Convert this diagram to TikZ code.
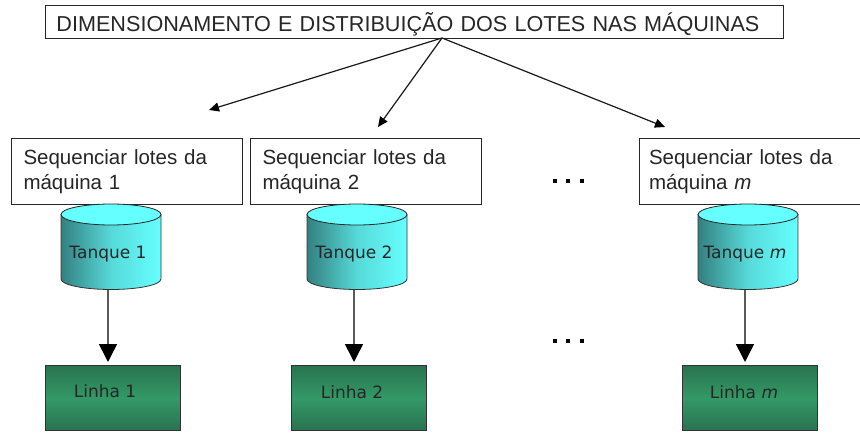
\documentclass[tikz,border=0pt]{standalone}
\usepackage{fontspec}
\setmainfont{Liberation Sans}
\newfontfamily\tahoma{DejaVu Sans}
\usetikzlibrary{arrows.meta}
\definecolor{cyanL}{RGB}{102,255,255}
\definecolor{cyanD}{RGB}{52,128,128}
\definecolor{greenM}{RGB}{51,153,102}
\definecolor{greenD}{RGB}{41,115,80}
\tikzset{
  x=1pt,y=-1pt,
  textbox/.style={draw=black!85,line width=1pt,fill=white,inner sep=0pt,anchor=north west,align=left,font=\fontsize{20.5}{25}\selectfont,text=black!85},
  toptext/.style={textbox,font=\fontsize{21.6}{25}\selectfont},
  tanklabel/.style={font=\tahoma\fontsize{17}{20}\selectfont,text=black!85},
  tankbody/.style={draw=black!80,line width=0.8pt,left color=cyanD,right color=cyanL,middle color=cyanL!70!cyanD},
  tanktop/.style={draw=black!85,line width=0.8pt,fill=cyanL},
  linebox/.style={draw=black!80,line width=0.8pt,anchor=north west,minimum width=135pt,minimum height=65pt,inner sep=0pt,top color=greenD,bottom color=greenD,middle color=greenM},
  linelabel/.style={font=\tahoma\fontsize{17}{20}\selectfont,text=black!85},
  bigarrow/.style={draw=black!65,line width=1.6pt,shorten >=3pt,-{Triangle[length=18pt,width=18pt,color=black]}},
  thinarrow/.style={draw=black!90,line width=1.2pt,-{Triangle[length=10pt,width=9pt,color=black]}},
  dotmark/.style={rectangle,fill=black,inner sep=0pt,minimum size=4pt},
}
\newcommand{\tankshape}[3]{% left x, name, label
  \path[tankbody] (#1,214.5) -- (#1,279) arc[start angle=180,end angle=360,x radius=50pt,y radius=10.5pt] -- (#1+100,214.5) -- cycle;
  \path[tanktop] (#1+50,214.5) ellipse[x radius=50pt,y radius=10.5pt];
  \node[tanklabel] (#2l) at (#1+47,254) {#3};
  \coordinate (#2) at (#1+47,290);
}
\newcommand{\dotsrow}[2]{% y, name
  \node[dotmark] (#2a) at (555,#1) {};
  \node[dotmark] (#2b) at (568,#1) {};
  \node[dotmark] (#2c) at (582,#1) {};
}
\begin{document}
\begin{tikzpicture}
\useasboundingbox (0,0) rectangle (860,433);
\node[toptext,minimum width=738pt,minimum height=33pt,text width=726pt,inner xsep=6pt] (top) at (45,5) {\hspace*{5pt}\rule{0pt}{24.5pt}DIMENSIONAMENTO E DISTRIBUIÇÃO DOS LOTES NAS MÁQUINAS};
\coordinate (hub) at (442,38);
\coordinate (e1) at (209,110);
\coordinate (e2) at (378,127);
\coordinate (e3) at (665,127);
\node[textbox,minimum width=231pt,minimum height=66pt,text width=219pt,inner xsep=6pt] (s1) at (11,138) {\hspace*{6pt}Sequenciar lotes da\\\hspace*{6pt}máquina 1};
\node[textbox,minimum width=231pt,minimum height=66pt,text width=219pt,inner xsep=6pt] (s2) at (250,138) {\hspace*{6pt}Sequenciar lotes da\\\hspace*{6pt}máquina 2};
\node[textbox,minimum width=221pt,minimum height=66pt,text width=209pt,inner xsep=6pt] (s3) at (638.5,138) {\hspace*{4pt}Sequenciar lotes da\\\hspace*{4pt}máquina \textit{m}};
\tankshape{61}{t1}{Tanque 1}
\tankshape{307}{t2}{Tanque 2}
\tankshape{698}{t3}{Tanque \textit{m}}
\node[linebox] (l1) at (45,365) {};
\node[linebox] (l2) at (291,365) {};
\node[linebox] (l3) at (682,365) {};
\node[linelabel] at (105,391) {Linha 1};
\node[linelabel] at (352,392) {Linha 2};
\node[linelabel] at (744,392) {Linha \textit{m}};
\draw[thinarrow] (hub) -- (e1);
\draw[thinarrow] (hub) -- (e2);
\draw[thinarrow] (hub) -- (e3);
\draw[bigarrow] (t1) -- (t1 |- l1.north);
\draw[bigarrow] (t2) -- (t2 |- l2.north);
\draw[bigarrow] (t3) -- (t3 |- l3.north);
\dotsrow{181}{d}
\dotsrow{341}{f}
\end{tikzpicture}
\end{document}
